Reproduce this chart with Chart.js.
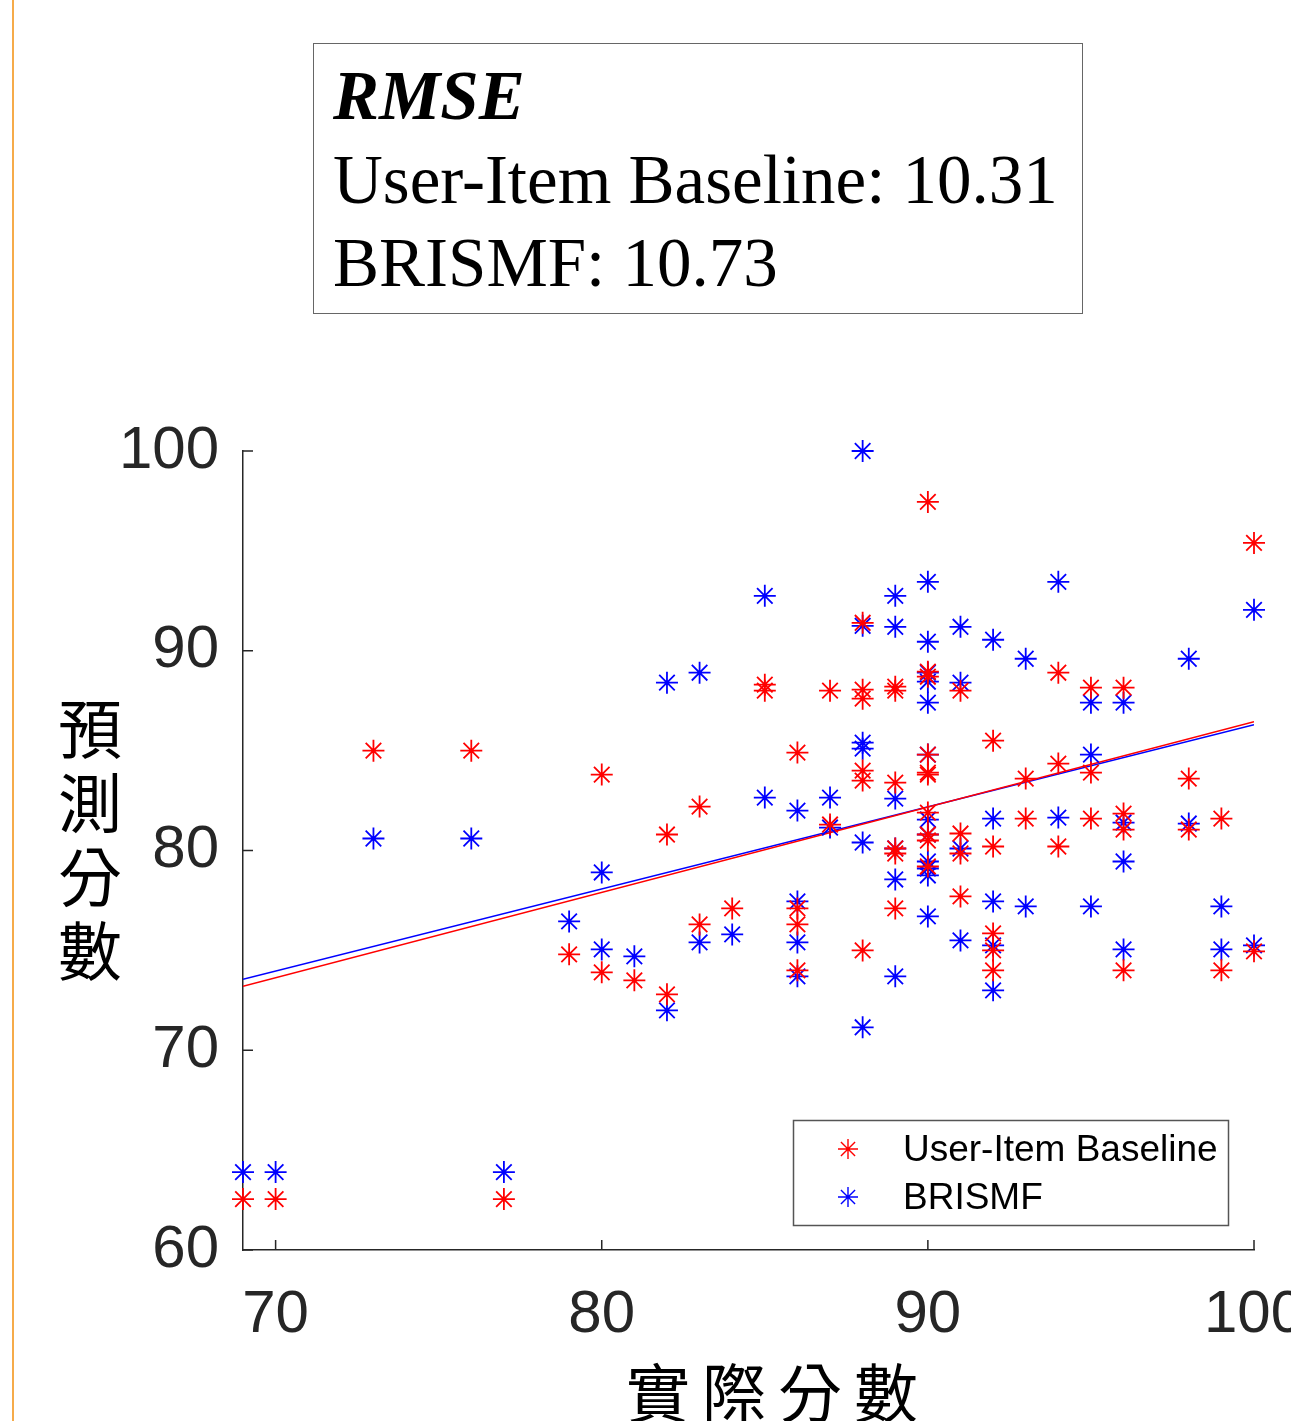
<!DOCTYPE html>
<html>
<head>
<meta charset="utf-8">
<script src="https://cdn.jsdelivr.net/npm/chart.js@4.4.0/dist/chart.umd.min.js"></script>
<style>
body { margin: 0; background: #fff; }
#wrap { position: relative; width: 1291px; height: 1421px; overflow: hidden; }
#chart { position: absolute; left: 0; top: 0; }
.edge { position: absolute; left: 12px; top: 0; width: 2px; height: 1421px; background: #f6ab4a; }
.rmse {
    position: absolute; left: 313px; top: 43px; width: 770px; height: 271px;
    box-sizing: border-box; border: 1.5px solid #666; padding: 11px 0 0 19px;
    font-family: 'Liberation Serif', 'Times New Roman', serif; font-size: 69px;
    line-height: 83.5px; color: #000; white-space: nowrap; background: #fff;
}
.rmse b { font-style: italic; }
.ytitle {
    position: absolute; left: 57px; top: 688px; width: 66px;
    font-family: 'Noto Sans CJK TC', sans-serif; font-size: 64px; line-height: 74px;
    text-align: center; color: #000;
}
.xtitle {
    position: absolute; left: 626px; top: 1352px; white-space: nowrap;
    font-family: 'Noto Sans CJK TC', sans-serif; font-size: 64px; line-height: 74px;
    letter-spacing: 12px; color: #000;
}
</style>
</head>
<body>
<div id="wrap">
    <canvas id="chart" width="1291" height="1421"></canvas>
    <div class="edge"></div>
    <div class="rmse"><b>RMSE</b><br>User-Item Baseline: 10.31<br>BRISMF: 10.73</div>
    <div class="ytitle">預<br>測<br>分<br>數</div>
    <div class="xtitle">實際分數</div>
</div>
<script>
// actual score (x) and predicted score (y) for each method
var actualUser = [69, 70, 73, 76, 77, 79, 80, 80, 81, 82, 82, 83, 83, 84, 85, 85,
    86, 86, 86, 86, 87, 87, 88, 88, 88, 88, 88, 88, 89, 89, 89, 89, 89, 89,
    90, 90, 90, 90, 90, 90, 90, 90, 90, 90, 91, 91, 91, 91, 92, 92, 92, 92, 92,
    93, 93, 94, 94, 94, 95, 95, 95, 96, 96, 96, 96, 98, 98, 99, 99, 100, 100];
var predUser = [62.55, 62.55, 85.0, 85.0, 62.55, 74.8, 83.8, 73.9, 73.5, 80.8, 72.8, 82.2, 76.3, 77.1, 88.3, 88.0,
    84.9, 77.1, 76.3, 74.0, 88.0, 81.3, 91.4, 88.05, 87.6, 84.0, 83.5, 75.0, 88.2, 88.0, 83.4, 80.1, 79.85, 77.1,
    97.45, 88.95, 88.7, 84.8, 83.9, 83.8, 81.9, 80.8, 80.5, 79.2, 88.0, 80.85, 79.85, 77.7, 85.5, 80.2, 75.85, 75.0, 74.0,
    83.6, 81.6, 88.9, 84.35, 80.2, 88.15, 83.9, 81.6, 88.15, 81.85, 81.05, 74.0, 83.6, 81.05, 81.6, 74.0, 95.4, 74.95];

var actualBris = [69, 70, 73, 76, 77, 79, 80, 80, 81, 82, 82, 83, 83, 84, 85, 85,
    86, 86, 86, 86, 87, 87, 88, 88, 88, 88, 88, 88, 89, 89, 89, 89, 89, 89,
    90, 90, 90, 90, 90, 90, 90, 90, 90, 90, 90, 90, 91, 91, 91, 91, 92, 92, 92, 92, 92,
    93, 93, 94, 94, 95, 95, 95, 96, 96, 96, 96, 98, 98, 99, 99, 100, 100];
var predBris = [63.9, 63.9, 80.6, 80.6, 63.9, 76.45, 78.9, 75.05, 74.7, 88.4, 72.0, 88.9, 75.4, 75.8, 92.75, 82.65,
    82.0, 77.45, 75.4, 73.7, 82.65, 81.15, 100.0, 91.25, 85.4, 85.1, 80.4, 71.15, 92.75, 91.2, 82.6, 80.1, 78.55, 73.7,
    93.45, 90.45, 88.9, 88.45, 87.4, 84.8, 81.55, 80.8, 79.45, 79.1, 78.75, 76.7, 91.2, 88.4, 80.1, 75.5,
    90.55, 81.6, 77.45, 75.25, 73.0, 89.6, 77.2, 93.45, 81.65, 87.4, 84.8, 77.2, 87.4, 81.4, 79.45, 75.05,
    89.6, 81.35, 77.2, 75.05, 92.05, 75.25];

// fitted lines, end points
var fitX = [69, 100];
var fitUser = [73.2, 86.45];
var fitBris = [73.55, 86.3];

var xTicks = [70, 80, 90, 100];

var red = '#ff0000';
var blue = '#0000ff';
var axisColor = '#262626';

function pairs(xs, ys) {
    return xs.map(function (v, i) { return { x: v, y: ys[i] }; });
}

// MATLAB style ticks pointing into the plot
var inwardTicks = {
    id: 'inwardTicks',
    afterDatasetsDraw: function (chart) {
        var ctx = chart.ctx, a = chart.chartArea, sx = chart.scales.x, sy = chart.scales.y;
        ctx.save();
        ctx.strokeStyle = axisColor;
        ctx.lineWidth = 1.5;
        ctx.beginPath();
        sx.ticks.forEach(function (t) {
            var px = sx.getPixelForValue(t.value);
            ctx.moveTo(px, a.bottom); ctx.lineTo(px, a.bottom - 10);
        });
        sy.ticks.forEach(function (t) {
            var py = sy.getPixelForValue(t.value);
            ctx.moveTo(a.left, py); ctx.lineTo(a.left + 10, py);
        });
        ctx.stroke();
        ctx.restore();
    }
};

// legend box in the lower right of the plot
var boxLegend = {
    id: 'boxLegend',
    afterDraw: function (chart) {
        var ctx = chart.ctx;
        ctx.save();
        ctx.fillStyle = '#fff';
        ctx.fillRect(793.5, 1120.5, 435, 105);
        ctx.strokeStyle = '#555';
        ctx.lineWidth = 1.5;
        ctx.strokeRect(793.5, 1120.5, 435, 105);
        var rows = [1149, 1197];
        chart.data.datasets.slice(0, 2).forEach(function (ds, i) {
            ctx.strokeStyle = ds.borderColor;
            ctx.fillStyle = ds.borderColor;
            ctx.lineWidth = 1.4;
            Chart.helpers.drawPoint(ctx, { pointStyle: 'star', radius: 10, rotation: 0, borderWidth: 1.4 }, 848, rows[i]);
            ctx.fillStyle = '#000';
            ctx.font = '37px "Liberation Sans", Arial, sans-serif';
            ctx.textBaseline = 'middle';
            ctx.fillText(ds.label, 903, rows[i] + 2);
        });
        ctx.restore();
    }
};

var ctx = document.getElementById('chart').getContext('2d');
var myChart = new Chart(ctx, {
    type: 'scatter',
    data: {
        datasets: [{
            label: 'User-Item Baseline',
            data: pairs(actualUser, predUser),
            pointStyle: 'star',
            pointRadius: 11,
            borderColor: red,
            backgroundColor: red,
            pointBorderWidth: 1.8,
            clip: false
        }, {
            label: 'BRISMF',
            data: pairs(actualBris, predBris),
            pointStyle: 'star',
            pointRadius: 11,
            borderColor: blue,
            backgroundColor: blue,
            pointBorderWidth: 1.8,
            clip: false
        }, {
            type: 'line',
            label: 'fit User-Item Baseline',
            data: pairs(fitX, fitUser),
            borderColor: red,
            borderWidth: 1.5,
            pointRadius: 0
        }, {
            type: 'line',
            label: 'fit BRISMF',
            data: pairs(fitX, fitBris),
            borderColor: blue,
            borderWidth: 1.5,
            pointRadius: 0
        }]
    },
    options: {
        responsive: false,
        animation: false,
        layout: { padding: { left: 0, top: 451, right: 37, bottom: 0 } },
        plugins: {
            legend: { display: false },
            tooltip: { enabled: false }
        },
        scales: {
            x: {
                type: 'linear',
                min: 69,
                max: 100,
                afterBuildTicks: function (s) { s.ticks = xTicks.map(function (v) { return { value: v }; }); },
                afterFit: function (s) { s.height = 171; s.paddingLeft = 0; s.paddingRight = 0; },
                grid: { display: false, drawTicks: false },
                border: { display: true, color: axisColor, width: 1.5 },
                ticks: {
                    padding: 35,
                    color: axisColor,
                    font: { family: '"Liberation Sans", Arial, sans-serif', size: 60, lineHeight: 1 },
                    maxRotation: 0,
                    autoSkip: false
                }
            },
            y: {
                min: 60,
                max: 100,
                afterFit: function (s) { s.width = 243; s.paddingTop = 0; s.paddingBottom = 0; },
                grid: { display: false, drawTicks: false },
                border: { display: true, color: axisColor, width: 1.5 },
                ticks: {
                    stepSize: 10,
                    padding: 24,
                    color: axisColor,
                    font: { family: '"Liberation Sans", Arial, sans-serif', size: 60, lineHeight: 1 }
                }
            }
        }
    },
    plugins: [inwardTicks, boxLegend]
});
</script>
</body>
</html>
